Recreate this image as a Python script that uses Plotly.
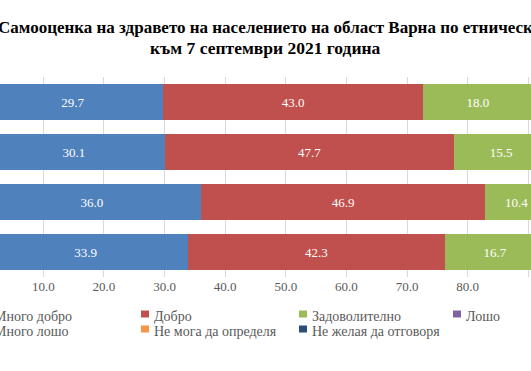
import plotly.graph_objects as go

# ---- data ----
groups = ["Българска", "Турска", "Ромска", "Друга"]
series_names = ["Много добро", "Добро", "Задоволително", "Лошо",
                "Много лошо", "Не мога да определя", "Не желая да отговоря"]
very_good = [29.7, 30.1, 36.0, 33.9]
good = [43.0, 47.7, 46.9, 42.3]
satisfactory = [18.0, 15.5, 10.4, 16.7]
bad = [5.8, 4.5, 4.4, 4.6]
very_bad = [1.7, 1.1, 1.3, 1.2]
cannot_say = [1.2, 0.7, 0.7, 0.9]
no_answer = [0.6, 0.4, 0.3, 0.4]
colors = ["#4F81BD", "#C0504D", "#9BBB59", "#8064A2", "#4BACC6", "#F79646", "#2C4D75"]
x_ticks = [10, 20, 30, 40, 50, 60, 70, 80, 90]
title_line1 = "Самооценка на здравето на населението на област Варна по етническа група"
title_line2 = "към 7 септември 2021 година"

values = [very_good, good, satisfactory, bad, very_bad, cannot_say, no_answer]

W, H = 531, 371
T, B = 77, 94
PH = H - T - B
SERIF = "Liberation Serif, Times New Roman, serif"

fig = go.Figure()
for i, (name, vals, col) in enumerate(zip(series_names, values, colors)):
    visible_label = i < 3  # the other segments lie beyond the cropped right edge
    fig.add_trace(go.Bar(
        y=groups, x=vals, name=name, orientation="h",
        marker=dict(color=col, line=dict(width=0)),
        texttemplate="%{x:.1f}" if visible_label else None,
        textposition="inside" if visible_label else "none",
        insidetextanchor="middle", textangle=0, constraintext="none",
        textfont=dict(family=SERIF, size=13, color="white"),
        showlegend=False, hoverinfo="skip",
    ))

fig.update_layout(
    width=W, height=H,
    barmode="stack", bargap=0.28,
    margin=dict(l=0, r=0, t=T, b=B, autoexpand=False),
    paper_bgcolor="white", plot_bgcolor="white",
    font=dict(family=SERIF, color="#595959"),
    xaxis=dict(range=[2.84, 90.46], tickvals=x_ticks, tickformat=".1f",
               showgrid=True, gridcolor="#D9D9D9", gridwidth=1,
               zeroline=False, showline=False, ticks="",
               tickfont=dict(family=SERIF, size=13, color="#595959")),
    yaxis=dict(autorange="reversed", showticklabels=False, showgrid=False,
               zeroline=False, showline=False),
)


def px_to_paper_x(px):
    return px / W


def py_to_paper_y(py):
    return (H - B - py) / PH


# title (cropped in the reference)
fig.add_annotation(
    xref="paper", yref="paper",
    x=px_to_paper_x(-4), xanchor="left",
    y=py_to_paper_y(27), yanchor="middle",
    text="<b>" + title_line1 + "</b>",
    showarrow=False, font=dict(family=SERIF, size=17, color="black"))
fig.add_annotation(
    xref="paper", yref="paper",
    x=px_to_paper_x(265.5), xanchor="center",
    y=py_to_paper_y(48.5), yanchor="middle",
    text="<b>" + title_line2 + "</b>",
    showarrow=False, font=dict(family=SERIF, size=17.5, color="black"))

# legend (cropped at left in the reference)
legend_cols = [-19, 141, 299, 453]
legend_rows = [316, 331]
layout_pos = [(0, 0), (0, 1), (0, 2), (0, 3), (1, 0), (1, 1), (1, 2)]
for name, col, (r, c) in zip(series_names, colors, layout_pos):
    mx = legend_cols[c]
    my = legend_rows[r]
    top = my - 5.5
    fig.add_shape(type="rect", xref="paper", yref="paper",
                  x0=px_to_paper_x(mx), x1=px_to_paper_x(mx + 8),
                  y0=py_to_paper_y(top + 7), y1=py_to_paper_y(top),
                  fillcolor=col, line=dict(width=0))
    fig.add_annotation(xref="paper", yref="paper",
                       x=px_to_paper_x(mx + 11), xanchor="left",
                       y=py_to_paper_y(my), yanchor="middle",
                       text=name, showarrow=False,
                       font=dict(family=SERIF, size=14, color="#595959"))

fig.write_html("out.html", config={"displayModeBar": False},
               post_script="document.body.style.margin='0';")
